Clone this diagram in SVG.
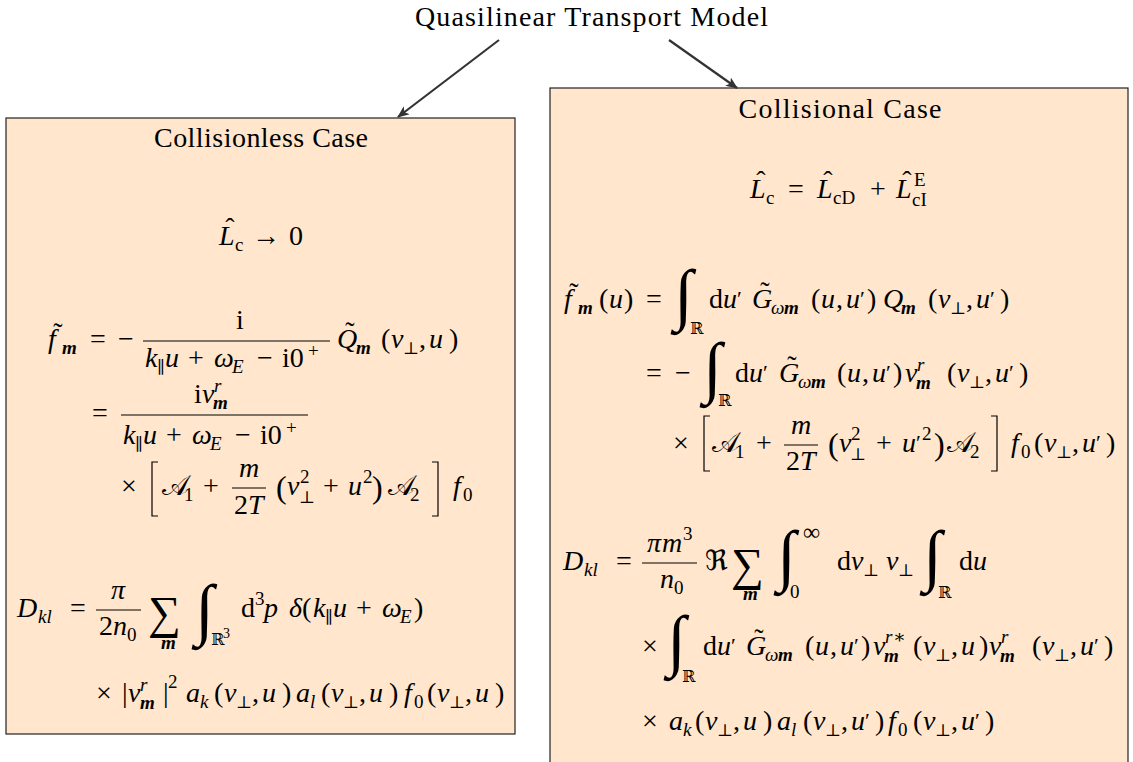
<svg xmlns="http://www.w3.org/2000/svg" width="1133" height="762" viewBox="0 0 1133 762">
<defs>
<style>
.t{font-family:"Liberation Serif","DejaVu Serif",serif;font-size:28px;fill:#000}
.i{font-style:italic}
.b{font-style:italic;font-weight:bold}
.s{font-size:19px}
.x{font-size:14px}
.d{font-family:"DejaVu Serif","DejaVu Sans",serif;font-style:normal;font-weight:normal}
.pp{font-size:17px}
.ac{text-anchor:middle}
.sc{font-family:"DejaVu Sans","DejaVu Serif","Noto Sans",serif;font-style:normal}
.int{font-family:"Liberation Serif",serif;font-size:68px}
.sum{font-family:"Liberation Serif",serif;font-size:46px}
.bar{stroke:#000;stroke-width:1.1}
.br{fill:none;stroke:#000;stroke-width:1.2}
.box{fill:#FFE6CC;stroke:#222;stroke-width:1.2}
.arr{stroke:#333;stroke-width:2.2;fill:none;marker-end:url(#ah)}
</style>
<marker id="ah" viewBox="0 0 12 10" refX="11" refY="5" markerWidth="12" markerHeight="10" markerUnits="userSpaceOnUse" orient="auto">
<path d="M0,0 L12,5 L0,10 L3,5 z" fill="#333"/>
</marker>
</defs>
<rect width="1133" height="762" fill="#fff"/>

<g id="title">
<text class="t" x="415" y="26" textLength="353" lengthAdjust="spacing">Quasilinear Transport Model</text>
</g>

<g id="collisionless">
<rect class="box" x="6" y="118" width="509" height="616"/>
<text class="t ac" x="261" y="147" textLength="214" lengthAdjust="spacing">Collisionless Case</text>
<text class="t">
<tspan class="i" x="219" y="245">L</tspan><tspan class="ac" x="230" y="237">ˆ</tspan><tspan class="s" x="235" y="251">c</tspan><tspan x="252" y="245">→</tspan><tspan x="289" y="245">0</tspan>
</text>
<!-- f tilde line -->
<text class="t">
<tspan class="i" x="48" y="348">f</tspan><tspan class="ac" x="58" y="342">˜</tspan><tspan class="b s" x="62" y="354">m</tspan>
<tspan x="90" y="348">=</tspan><tspan x="118" y="348">−</tspan>
<tspan x="236" y="329">i</tspan>
<tspan class="i" x="145" y="367">k</tspan><tspan class="d pp" x="157" y="373">∥</tspan><tspan class="i" x="165" y="367">u</tspan><tspan x="188" y="367">+</tspan><tspan class="i" x="214" y="367">ω</tspan><tspan class="i s" x="232" y="373">E</tspan><tspan x="257" y="367">−</tspan><tspan x="282" y="367">i0</tspan><tspan class="s" x="308" y="357">+</tspan>
<tspan class="i" x="337" y="348">Q</tspan><tspan class="ac" x="350" y="341">˜</tspan><tspan class="b s" x="356" y="354">m</tspan>
<tspan x="381" y="348">(</tspan><tspan class="i" x="391" y="348">v</tspan><tspan class="d pp" x="403" y="354">⊥</tspan><tspan x="419" y="348">,</tspan><tspan class="i" x="429" y="348">u</tspan><tspan x="449" y="348">)</tspan>
</text>
<line class="bar" x1="143" y1="341" x2="330" y2="341"/>
<!-- line 2 -->
<text class="t">
<tspan x="92" y="422">=</tspan>
<tspan x="194" y="403">i</tspan><tspan class="i" x="202" y="403">v</tspan><tspan class="i s" x="214" y="392">r</tspan><tspan class="b s" x="213" y="409">m</tspan>
<tspan class="i" x="123" y="444">k</tspan><tspan class="d pp" x="135" y="450">∥</tspan><tspan class="i" x="143" y="444">u</tspan><tspan x="166" y="444">+</tspan><tspan class="i" x="192" y="444">ω</tspan><tspan class="i s" x="210" y="450">E</tspan><tspan x="235" y="444">−</tspan><tspan x="260" y="444">i0</tspan><tspan class="s" x="286" y="434">+</tspan>
</text>
<line class="bar" x1="121" y1="415" x2="308" y2="415"/>
<!-- line 3 -->
<text class="t">
<tspan x="121" y="495">×</tspan>
<tspan class="sc" x="162" y="495">𝒜</tspan><tspan class="s" x="184" y="501">1</tspan>
<tspan x="203" y="495">+</tspan>
<tspan class="i" x="239" y="477">m</tspan><tspan x="234" y="514">2</tspan><tspan class="i" x="248" y="514">T</tspan>
<tspan style="font-size:32px" x="276" y="498">(</tspan><tspan class="i" x="287" y="495">v</tspan><tspan class="s" x="300" y="483">2</tspan><tspan class="d pp" x="299" y="503">⊥</tspan>
<tspan x="323" y="495">+</tspan>
<tspan class="i" x="348" y="495">u</tspan><tspan class="s" x="363" y="483">2</tspan><tspan style="font-size:32px" x="372" y="498">)</tspan>
<tspan class="sc" x="388" y="495">𝒜</tspan><tspan class="s" x="410" y="501">2</tspan>
<tspan class="i" x="453" y="495">f</tspan><tspan class="s" x="463" y="501">0</tspan>
</text>
<line class="bar" x1="232" y1="488" x2="266" y2="488"/>
<path class="br" d="M158,462 H152 V516 H158"/>
<path class="br" d="M432,462 H438 V516 H432"/>
<!-- D line -->
<text class="t">
<tspan class="i" x="17" y="617">D</tspan><tspan class="i s" x="38" y="623">kl</tspan>
<tspan x="70" y="617">=</tspan>
<tspan class="i" x="111" y="599">π</tspan>
<tspan x="99" y="635">2</tspan><tspan class="i" x="113" y="635">n</tspan><tspan class="s" x="127" y="641">0</tspan>
<tspan class="b s" x="161" y="649">m</tspan>
<tspan class="d" style="font-size:16px" x="211" y="645">ℝ</tspan><tspan class="x" x="223" y="638">3</tspan>
<tspan x="241" y="617">d</tspan><tspan class="s" x="255" y="605">3</tspan><tspan class="i" x="264" y="617">p</tspan>
<tspan class="i" x="289" y="617">δ</tspan><tspan x="302" y="617">(</tspan><tspan class="i" x="313" y="617">k</tspan><tspan class="d pp" x="325" y="623">∥</tspan><tspan class="i" x="333" y="617">u</tspan><tspan x="356" y="617">+</tspan><tspan class="i" x="382" y="617">ω</tspan><tspan class="i s" x="400" y="623">E</tspan><tspan x="414" y="617">)</tspan>
</text>
<text class="sum" x="148" y="628">∑</text>
<text class="int" x="195" y="632">∫</text>
<line class="bar" x1="96" y1="610" x2="141" y2="610"/>
<!-- last line -->
<text class="t">
<tspan x="96" y="702">×</tspan>
<tspan x="122" y="702">|</tspan><tspan class="i" x="128" y="702">v</tspan><tspan class="i s" x="140" y="691">r</tspan><tspan class="b s" x="140" y="709">m</tspan><tspan x="163" y="702">|</tspan><tspan class="s" x="168" y="688">2</tspan>
<tspan class="i" x="186" y="702">a</tspan><tspan class="i s" x="200" y="708">k</tspan>
<tspan x="214" y="702">(</tspan><tspan class="i" x="224" y="702">v</tspan><tspan class="d pp" x="236" y="708">⊥</tspan><tspan x="252" y="702">,</tspan><tspan class="i" x="262" y="702">u</tspan><tspan x="282" y="702">)</tspan>
<tspan class="i" x="296" y="702">a</tspan><tspan class="i s" x="310" y="708">l</tspan>
<tspan x="321" y="702">(</tspan><tspan class="i" x="331" y="702">v</tspan><tspan class="d pp" x="343" y="708">⊥</tspan><tspan x="359" y="702">,</tspan><tspan class="i" x="369" y="702">u</tspan><tspan x="389" y="702">)</tspan>
<tspan class="i" x="404" y="702">f</tspan><tspan class="s" x="414" y="708">0</tspan>
<tspan x="427" y="702">(</tspan><tspan class="i" x="437" y="702">v</tspan><tspan class="d pp" x="449" y="708">⊥</tspan><tspan x="465" y="702">,</tspan><tspan class="i" x="475" y="702">u</tspan><tspan x="495" y="702">)</tspan>
</text>
</g>

<g id="collisional">
<rect class="box" x="550" y="88" width="578" height="690"/>
<text class="t ac" x="840" y="118" textLength="203" lengthAdjust="spacing">Collisional Case</text>
<text class="t">
<tspan class="i" x="750" y="198">L</tspan><tspan class="ac" x="761" y="190">ˆ</tspan><tspan class="s" x="766" y="204">c</tspan>
<tspan x="788" y="198">=</tspan>
<tspan class="i" x="817" y="198">L</tspan><tspan class="ac" x="828" y="190">ˆ</tspan><tspan class="s" x="833" y="204">cD</tspan>
<tspan x="870" y="198">+</tspan>
<tspan class="i" x="896" y="198">L</tspan><tspan class="ac" x="907" y="190">ˆ</tspan><tspan class="s" x="914" y="186">E</tspan><tspan class="s" x="912" y="206">cI</tspan>
</text>
<!-- f line -->
<text class="t">
<tspan class="i" x="564" y="308">f</tspan><tspan class="ac" x="574" y="302">˜</tspan><tspan class="b s" x="578" y="314">m</tspan><tspan x="599" y="308">(</tspan><tspan class="i" x="609" y="308">u</tspan><tspan x="624" y="308">)</tspan>
<tspan x="646" y="308">=</tspan>
<tspan class="d" style="font-size:16px" x="690" y="334">ℝ</tspan>
<tspan x="709" y="308">d</tspan><tspan class="i" x="723" y="308">u</tspan><tspan style="font-size:22px" x="737" y="306">′</tspan>
<tspan class="i" x="752" y="308">G</tspan><tspan class="ac" x="765" y="301">˜</tspan><tspan class="i s" x="771" y="314">ω</tspan><tspan class="b s" x="784" y="314">m</tspan>
<tspan x="811" y="308">(</tspan><tspan class="i" x="821" y="308">u</tspan><tspan x="836" y="308">,</tspan><tspan class="i" x="846" y="308">u</tspan><tspan style="font-size:22px" x="860" y="306">′</tspan><tspan x="867" y="308">)</tspan>
<tspan class="i" x="883" y="308">Q</tspan><tspan class="b s" x="901" y="314">m</tspan>
<tspan x="928" y="308">(</tspan><tspan class="i" x="938" y="308">v</tspan><tspan class="d pp" x="950" y="314">⊥</tspan><tspan x="966" y="308">,</tspan><tspan class="i" x="976" y="308">u</tspan><tspan style="font-size:22px" x="990" y="306">′</tspan><tspan x="1000" y="308">)</tspan>
</text>
<text class="int" x="674" y="317">∫</text>
<!-- line 2 -->
<text class="t">
<tspan x="646" y="382">=</tspan><tspan x="675" y="382">−</tspan>
<tspan class="d" style="font-size:16px" x="718" y="406">ℝ</tspan>
<tspan x="735" y="382">d</tspan><tspan class="i" x="749" y="382">u</tspan><tspan style="font-size:22px" x="763" y="380">′</tspan>
<tspan class="i" x="779" y="382">G</tspan><tspan class="ac" x="792" y="375">˜</tspan><tspan class="i s" x="798" y="388">ω</tspan><tspan class="b s" x="811" y="388">m</tspan>
<tspan x="837" y="382">(</tspan><tspan class="i" x="847" y="382">u</tspan><tspan x="862" y="382">,</tspan><tspan class="i" x="872" y="382">u</tspan><tspan style="font-size:22px" x="886" y="380">′</tspan><tspan x="893" y="382">)</tspan>
<tspan class="i" x="905" y="382">v</tspan><tspan class="i s" x="917" y="371">r</tspan><tspan class="b s" x="916" y="389">m</tspan>
<tspan x="947" y="382">(</tspan><tspan class="i" x="957" y="382">v</tspan><tspan class="d pp" x="969" y="388">⊥</tspan><tspan x="985" y="382">,</tspan><tspan class="i" x="995" y="382">u</tspan><tspan style="font-size:22px" x="1009" y="380">′</tspan><tspan x="1019" y="382">)</tspan>
</text>
<text class="int" x="703" y="390">∫</text>
<!-- line 3 -->
<text class="t">
<tspan x="673" y="452">×</tspan>
<tspan class="sc" x="712" y="452">𝒜</tspan><tspan class="s" x="735" y="458">1</tspan>
<tspan x="756" y="452">+</tspan>
<tspan class="i" x="791" y="434">m</tspan><tspan x="786" y="470">2</tspan><tspan class="i" x="800" y="470">T</tspan>
<tspan style="font-size:32px" x="828" y="455">(</tspan><tspan class="i" x="839" y="452">v</tspan><tspan class="s" x="851" y="440">2</tspan><tspan class="d pp" x="850" y="460">⊥</tspan>
<tspan x="876" y="452">+</tspan>
<tspan class="i" x="902" y="452">u</tspan><tspan style="font-size:22px" x="916" y="450">′</tspan><tspan class="s" x="922" y="440">2</tspan><tspan style="font-size:32px" x="934" y="455">)</tspan>
<tspan class="sc" x="947" y="452">𝒜</tspan><tspan class="s" x="970" y="458">2</tspan>
<tspan class="i" x="1011" y="452">f</tspan><tspan class="s" x="1021" y="458">0</tspan>
<tspan x="1034" y="452">(</tspan><tspan class="i" x="1044" y="452">v</tspan><tspan class="d pp" x="1056" y="458">⊥</tspan><tspan x="1072" y="452">,</tspan><tspan class="i" x="1082" y="452">u</tspan><tspan style="font-size:22px" x="1096" y="450">′</tspan><tspan x="1106" y="452">)</tspan>
</text>
<line class="bar" x1="784" y1="445" x2="818" y2="445"/>
<path class="br" d="M710,416 H704 V471 H710"/>
<path class="br" d="M991,416 H997 V471 H991"/>
<!-- D line -->
<text class="t">
<tspan class="i" x="563" y="570">D</tspan><tspan class="i s" x="584" y="576">kl</tspan>
<tspan x="616" y="570">=</tspan>
<tspan class="i" x="647" y="552">π</tspan><tspan class="i" x="662" y="552">m</tspan><tspan class="s" x="683" y="540">3</tspan>
<tspan class="i" x="660" y="588">n</tspan><tspan class="s" x="674" y="594">0</tspan>
<tspan class="d" x="705" y="570">ℜ</tspan>
<tspan class="b s" x="743" y="600">m</tspan>
<tspan style="font-size:24px" x="803" y="540">∞</tspan><tspan class="s" x="790" y="598">0</tspan>
<tspan x="837" y="570">d</tspan><tspan class="i" x="851" y="570">v</tspan><tspan class="d pp" x="863" y="576">⊥</tspan><tspan class="i" x="886" y="570">v</tspan><tspan class="d pp" x="898" y="576">⊥</tspan>
<tspan class="d" style="font-size:16px" x="938" y="598">ℝ</tspan>
<tspan x="959" y="570">d</tspan><tspan class="i" x="973" y="570">u</tspan>
</text>
<text class="sum" x="731" y="580">∑</text>
<text class="int" x="777" y="578">∫</text>
<text class="int" x="923" y="578">∫</text>
<line class="bar" x1="642" y1="563" x2="697" y2="563"/>
<!-- line 5 -->
<text class="t">
<tspan x="642" y="655">×</tspan>
<tspan class="d" style="font-size:16px" x="682" y="682">ℝ</tspan>
<tspan x="703" y="655">d</tspan><tspan class="i" x="717" y="655">u</tspan><tspan style="font-size:22px" x="731" y="653">′</tspan>
<tspan class="i" x="746" y="655">G</tspan><tspan class="ac" x="759" y="648">˜</tspan><tspan class="i s" x="765" y="661">ω</tspan><tspan class="b s" x="778" y="661">m</tspan>
<tspan x="805" y="655">(</tspan><tspan class="i" x="815" y="655">u</tspan><tspan x="830" y="655">,</tspan><tspan class="i" x="840" y="655">u</tspan><tspan style="font-size:22px" x="854" y="653">′</tspan><tspan x="861" y="655">)</tspan>
<tspan class="i" x="873" y="655">v</tspan><tspan class="i s" x="885" y="643">r</tspan><tspan class="s" x="893" y="643">∗</tspan><tspan class="b s" x="884" y="662">m</tspan>
<tspan x="913" y="655">(</tspan><tspan class="i" x="923" y="655">v</tspan><tspan class="d pp" x="935" y="661">⊥</tspan><tspan x="951" y="655">,</tspan><tspan class="i" x="961" y="655">u</tspan><tspan x="979" y="655">)</tspan>
<tspan class="i" x="989" y="655">v</tspan><tspan class="i s" x="1001" y="643">r</tspan><tspan class="b s" x="1000" y="662">m</tspan>
<tspan x="1032" y="655">(</tspan><tspan class="i" x="1042" y="655">v</tspan><tspan class="d pp" x="1054" y="661">⊥</tspan><tspan x="1070" y="655">,</tspan><tspan class="i" x="1080" y="655">u</tspan><tspan style="font-size:22px" x="1094" y="653">′</tspan><tspan x="1104" y="655">)</tspan>
</text>
<text class="int" x="667" y="663">∫</text>
<!-- line 6 -->
<text class="t">
<tspan x="642" y="730">×</tspan>
<tspan class="i" x="669" y="730">a</tspan><tspan class="i s" x="683" y="736">k</tspan>
<tspan x="695" y="730">(</tspan><tspan class="i" x="705" y="730">v</tspan><tspan class="d pp" x="717" y="736">⊥</tspan><tspan x="733" y="730">,</tspan><tspan class="i" x="743" y="730">u</tspan><tspan x="763" y="730">)</tspan>
<tspan class="i" x="777" y="730">a</tspan><tspan class="i s" x="791" y="736">l</tspan>
<tspan x="803" y="730">(</tspan><tspan class="i" x="813" y="730">v</tspan><tspan class="d pp" x="825" y="736">⊥</tspan><tspan x="841" y="730">,</tspan><tspan class="i" x="851" y="730">u</tspan><tspan style="font-size:22px" x="865" y="728">′</tspan><tspan x="875" y="730">)</tspan>
<tspan class="i" x="888" y="730">f</tspan><tspan class="s" x="898" y="736">0</tspan>
<tspan x="913" y="730">(</tspan><tspan class="i" x="923" y="730">v</tspan><tspan class="d pp" x="935" y="736">⊥</tspan><tspan x="951" y="730">,</tspan><tspan class="i" x="961" y="730">u</tspan><tspan style="font-size:22px" x="975" y="728">′</tspan><tspan x="985" y="730">)</tspan>
</text>
</g>

<g id="connectors">
<line class="arr" x1="499" y1="40" x2="398" y2="117"/>
<line class="arr" x1="669" y1="40" x2="737" y2="88"/>
</g>
</svg>
